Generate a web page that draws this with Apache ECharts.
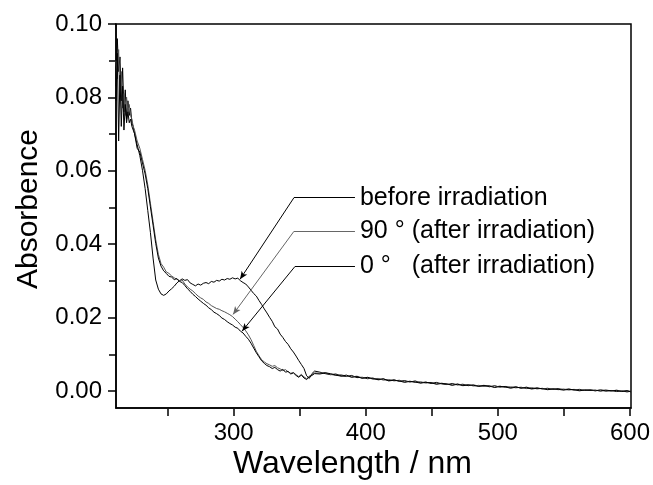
<!DOCTYPE html>
<html>
<head>
<meta charset="utf-8">
<script src="https://cdn.jsdelivr.net/npm/echarts@6/dist/echarts.min.js"></script>
<style>
  html, body { margin: 0; padding: 0; background: #fff; }
  #main { width: 653px; height: 485px; }
</style>
</head>
<body>
<div id="main"></div>
<script>
// wavelength samples (nm)
const wl = [211,212,213,214,215,216,217,218,219,220,221,222,223,224,225,
  227,229,231,233,235,237,239,241,243,245,247,249,251,253,255,257,259,261,263,265,267,269,271,273,275,277,279,
  281,283,285,287,289,291,293,295,297,299,301,303,305,307,309,311,313,315,317,319,321,323,325,327,329,331,333,
  335,337,339,341,343,345,347,349,351,353,355,357,359,361,
  365,369,373,377,381,385,389,393,397,401,405,409,413,417,421,425,429,433,437,441,445,449,453,457,461,465,469,
  473,477,481,485,489,493,497,501,505,509,513,517,521,525,529,533,537,541,545,549,553,557,561,565,569,573,577,
  581,585,589,593,597,600];

const absBefore = [0.083,0.096,0.087,0.091,0.079,0.088,0.076,0.082,0.074,0.079,0.075,0.077,0.073,0.072,0.070,
  0.067,0.064,0.060,0.055,0.049,0.043,0.036,0.030,0.0275,0.0262,0.0258,0.0262,0.0270,0.0276,0.0283,0.0292,0.0298,
  0.0303,0.0299,0.0301,0.0292,0.0288,0.0284,0.0289,0.0286,0.0291,0.0293,0.0290,0.0296,0.0294,0.0299,0.0297,0.0302,
  0.0300,0.0304,0.0302,0.0306,0.0303,0.0305,0.0298,0.0293,0.0289,0.0281,0.0272,0.0263,0.0256,0.0244,0.0233,0.0221,
  0.0210,0.0198,0.0187,0.0172,0.0166,0.0152,0.0143,0.0132,0.0124,0.0112,0.0103,0.0092,0.0080,0.0069,0.0058,0.0038,
  0.0031,0.0044,0.0051,
  0.0048,0.0044,0.0041,0.0043,0.0038,0.0036,0.0039,0.0033,0.0034,0.0030,
  0.0032,0.0027,0.0029,0.0025,0.0027,0.0023,0.0025,0.0021,0.0024,0.0019,
  0.0021,0.0017,0.0020,0.0016,0.0014,0.0017,0.0013,0.0015,0.0011,0.0013,
  0.0010,0.0012,0.0008,0.0011,0.0007,0.0009,0.0006,0.0008,0.0004,0.0007,
  0.0003,0.0005,0.0002,0.0004,0.0001,0.0003,0.0000,0.0002,-0.0001,0.0001,
  -0.0002,0.0000,-0.0003,-0.0001,-0.0004,-0.0002,-0.0005,-0.0003,-0.0006,-0.0004];

const abs90 = [0.090,0.085,0.093,0.080,0.087,0.077,0.081,0.075,0.080,0.076,0.078,0.075,0.074,0.072,0.071,
  0.068,0.066,0.063,0.060,0.056,0.051,0.046,0.041,0.037,0.0345,0.0335,0.0322,0.0318,0.0311,0.0306,0.0302,0.0298,
  0.0300,0.0289,0.0281,0.0275,0.0270,0.0263,0.0256,0.0251,0.0247,0.0240,0.0236,0.0230,0.0226,0.0222,0.0220,0.0216,
  0.0213,0.0209,0.0205,0.0200,0.0193,0.0186,0.0178,0.0170,0.0161,0.0150,0.0137,0.0121,0.0105,0.0093,0.0082,0.0076,
  0.0071,0.0068,0.0064,0.0066,0.0060,0.0057,0.0052,0.0055,0.0049,0.0045,0.0047,0.0041,0.0036,0.0042,0.0035,0.0030,
  0.0037,0.0041,0.0046,
  0.0045,0.0047,0.0042,0.0039,0.0041,0.0037,0.0035,0.0037,0.0032,0.0033,
  0.0029,0.0031,0.0026,0.0028,0.0024,0.0026,0.0022,0.0023,0.0020,0.0022,
  0.0018,0.0020,0.0016,0.0018,0.0015,0.0013,0.0016,0.0012,0.0014,0.0010,
  0.0012,0.0009,0.0011,0.0007,0.0010,0.0006,0.0008,0.0005,0.0007,0.0003,
  0.0006,0.0002,0.0004,0.0001,0.0003,0.0000,0.0002,-0.0001,0.0001,-0.0002,
  0.0000,-0.0001,-0.0003,0.0000,-0.0002,-0.0004,-0.0001,-0.0004,-0.0002,-0.0005];

const abs0 = [0.079,0.092,0.068,0.086,0.072,0.083,0.071,0.078,0.073,0.076,0.073,0.074,0.072,0.071,0.070,
  0.066,0.065,0.062,0.059,0.055,0.050,0.045,0.040,0.036,0.0338,0.0325,0.0318,0.0310,0.0308,0.0301,0.0304,0.0296,
  0.0293,0.0285,0.0276,0.0269,0.0261,0.0255,0.0248,0.0242,0.0236,0.0231,0.0224,0.0219,0.0212,0.0208,0.0203,0.0196,
  0.0192,0.0186,0.0181,0.0177,0.0171,0.0168,0.0160,0.0155,0.0146,0.0138,0.0127,0.0114,0.0101,0.0090,0.0079,0.0072,
  0.0066,0.0063,0.0058,0.0061,0.0055,0.0051,0.0056,0.0048,0.0050,0.0043,0.0046,0.0039,0.0034,0.0040,0.0032,0.0028,
  0.0035,0.0039,0.0044,
  0.0043,0.0046,0.0044,0.0040,0.0037,0.0040,0.0034,0.0036,0.0031,0.0034,
  0.0030,0.0028,0.0030,0.0024,0.0026,0.0024,0.0020,0.0023,0.0021,0.0018,
  0.0020,0.0019,0.0015,0.0017,0.0016,0.0012,0.0015,0.0011,0.0013,0.0012,
  0.0009,0.0011,0.0010,0.0006,0.0009,0.0008,0.0004,0.0007,0.0005,0.0005,
  0.0002,0.0004,0.0003,0.0000,0.0002,0.0001,-0.0001,0.0001,0.0000,-0.0003,
  -0.0001,-0.0002,-0.0001,-0.0004,-0.0001,-0.0003,-0.0002,-0.0005,-0.0003,-0.0006];

const seriesNames = ['before irradiation', '90 ° (after irradiation)', '0 °   (after irradiation)'];

// annotation leader lines: [label start x, label y, arrow tip x, arrow tip y]
const leaders = [
  [345.4, 0.0525, 304.7, 0.0302],
  [345.4, 0.0433, 299.4, 0.0206],
  [346.2, 0.0337, 306.2, 0.0160]
];
const labelEndX = 391.5;

const font = 'Liberation Sans, Arial, Helvetica, sans-serif';

function pairs(ys) {
  return wl.map((w, i) => [w, ys[i]]);
}

function leaderLines(k, color) {
  const l = leaders[k];
  return {
    silent: true,
    symbol: ['none', 'none'],
    animation: false,
    lineStyle: { color: color, width: 1, type: 'solid' },
    label: { show: false },
    data: [
      [
        { coord: [l[0], l[1]] },
        {
          coord: [labelEndX, l[1]],
          label: {
            show: true, position: 'end', distance: 5,
            formatter: seriesNames[k],
            color: '#000', fontSize: 25, fontFamily: font
          }
        }
      ],
      [
        { coord: [l[0], l[1]], symbol: 'none' },
        { coord: [l[2], l[3]], symbol: 'arrow', symbolSize: [5, 8] }
      ]
    ]
  };
}

const chart = echarts.init(document.getElementById('main'));

const option = {
  animation: false,
  backgroundColor: '#fff',
  grid: [
    { left: 116, right: 22, top: 24, bottom: 76, show: true, borderColor: '#000', borderWidth: 1.5 },
    { left: 116, right: 22, top: 24, bottom: 94 },
    { left: 167.6, right: 22, top: 24, bottom: 76 }
  ],
  xAxis: [
    {
      gridIndex: 0, type: 'value', min: 211, max: 600,
      name: 'Wavelength / nm', nameLocation: 'middle', nameGap: 40,
      nameTextStyle: { fontSize: 32, fontFamily: font, color: '#000', padding: [0, 42, 0, 0] },
      axisLine: { show: true, onZero: false, lineStyle: { color: '#000', width: 1.5 } },
      axisTick: { show: false }, axisLabel: { show: false }, splitLine: { show: false }
    },
    {
      gridIndex: 1, type: 'value', min: 0, max: 1, show: false
    },
    {
      gridIndex: 2, type: 'value', min: 250, max: 600, interval: 50,
      axisLine: { show: false, onZero: false },
      axisTick: { show: true, inside: false, length: 7, lineStyle: { color: '#000', width: 1.5 } },
      axisLabel: {
        show: true, margin: 12, fontSize: 24, fontFamily: font, color: '#000',
        formatter: v => (v % 100 === 0 ? String(v) : '')
      },
      splitLine: { show: false }
    }
  ],
  yAxis: [
    {
      gridIndex: 0, type: 'value', min: -0.005, max: 0.10,
      name: 'Absorbence', nameLocation: 'middle', nameGap: 72,
      nameTextStyle: { fontSize: 30, fontFamily: font, color: '#000', padding: [0, 0, 0, 14] },
      axisLine: { show: true, onZero: false, lineStyle: { color: '#000', width: 1.5 } },
      axisTick: { show: false }, axisLabel: { show: false }, splitLine: { show: false }
    },
    {
      gridIndex: 1, type: 'value', min: 0, max: 0.10, interval: 0.02,
      axisLine: { show: false, onZero: false },
      axisTick: { show: true, inside: false, length: 8, lineStyle: { color: '#000', width: 1.5 } },
      minorTick: { show: true, splitNumber: 2, length: 7, lineStyle: { color: '#000', width: 1.5 } },
      axisLabel: {
        show: true, margin: 14, fontSize: 24, fontFamily: font, color: '#000',
        formatter: v => v.toFixed(2)
      },
      splitLine: { show: false }
    },
    {
      gridIndex: 2, type: 'value', min: 0, max: 1, show: false
    }
  ],
  series: [
    {
      name: seriesNames[0], type: 'line', xAxisIndex: 0, yAxisIndex: 0,
      data: pairs(absBefore), showSymbol: false, symbol: 'none',
      lineStyle: { color: '#000', width: 1 },
      markLine: leaderLines(0, '#000')
    },
    {
      name: seriesNames[1], type: 'line', xAxisIndex: 0, yAxisIndex: 0,
      data: pairs(abs90), showSymbol: false, symbol: 'none',
      lineStyle: { color: '#555', width: 1 },
      markLine: leaderLines(1, '#666')
    },
    {
      name: seriesNames[2], type: 'line', xAxisIndex: 0, yAxisIndex: 0,
      data: pairs(abs0), showSymbol: false, symbol: 'none',
      lineStyle: { color: '#000', width: 1 },
      markLine: leaderLines(2, '#000')
    }
  ]
};

chart.setOption(option);
</script>
</body>
</html>
